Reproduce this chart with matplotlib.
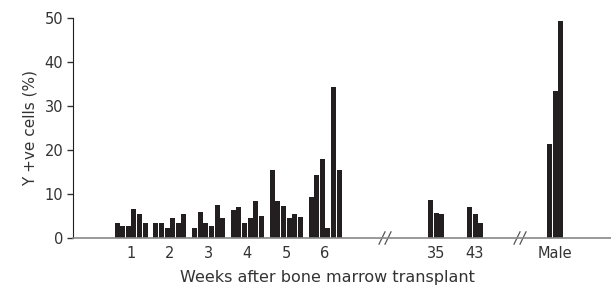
import matplotlib.pyplot as plt

# values (% Y +ve cells), 6 patients per week
week_labels = ['1', '2', '3', '4', '5', '6']
week1 = [3.4, 2.8, 2.8, 6.6, 5.5, 3.4]
week2 = [3.4, 3.4, 2.3, 4.5, 3.4, 5.5]
week3 = [2.3, 5.9, 3.4, 2.8, 7.5, 4.5]
week4 = [6.4, 7.0, 3.4, 4.5, 8.4, 5.0]
week5 = [15.5, 8.4, 7.3, 4.5, 5.5, 4.8]
week6 = [9.3, 14.3, 18.0, 2.3, 34.3, 15.5]
late_labels = ['35', '43']
week35 = [8.6, 5.7, 5.5]
week43 = [7.0, 5.5, 3.4]
male_label = 'Male'
male = [21.4, 33.5, 49.3]

bar_color = '#231f20'
bar_w = 5.0
step = 5.6

fig = plt.figure(figsize=(6.11, 2.92), dpi=100)
ax = fig.add_axes([73 / 611, 54 / 292, 538 / 611, 220 / 292])

# x runs in the axis' own units, 0 = left spine
week_centres = [58 + i * 38.8 for i in range(6)]
groups = [(c, v) for c, v in zip(week_centres, [week1, week2, week3, week4, week5, week6])]
groups += [(363, week35), (402, week43), (482, male)]

for centre, vals in groups:
    n = len(vals)
    xs = [centre + (k - (n - 1) / 2) * step for k in range(n)]
    ax.bar(xs, vals, width=bar_w, color=bar_color, linewidth=0)

ax.set_xlim(0, 538)
ax.set_ylim(0, 50)
ax.set_xticks(week_centres + [363, 402, 482])
ax.set_xticklabels(week_labels + late_labels + [male_label])
ax.tick_params(axis='x', length=0, pad=6, labelsize=10.5, colors='#333333')
ax.set_yticks([0, 10, 20, 30, 40, 50])
ax.tick_params(axis='y', length=4, width=1, pad=3, labelsize=10.5, colors='#333333')

for s in ['top', 'right']:
    ax.spines[s].set_visible(False)
ax.spines['left'].set_color('#231f20')
ax.spines['bottom'].set_color('#888888')
ax.spines['bottom'].set_linewidth(1.2)

# axis break marks
for bx in [312, 447]:
    for dx in [-3, 3]:
        ax.plot([bx + dx - 3, bx + dx + 3], [-1.4, 1.4], color='#555555',
                lw=0.9, clip_on=False)

ax.set_ylabel('Y +ve cells (%)', fontsize=11, color='#333333', labelpad=5)
ax.set_xlabel('Weeks after bone marrow transplant', fontsize=11.5,
              color='#333333')
ax.xaxis.set_label_coords(254 / 538, -0.145)

plt.savefig('out.png', dpi=100)
